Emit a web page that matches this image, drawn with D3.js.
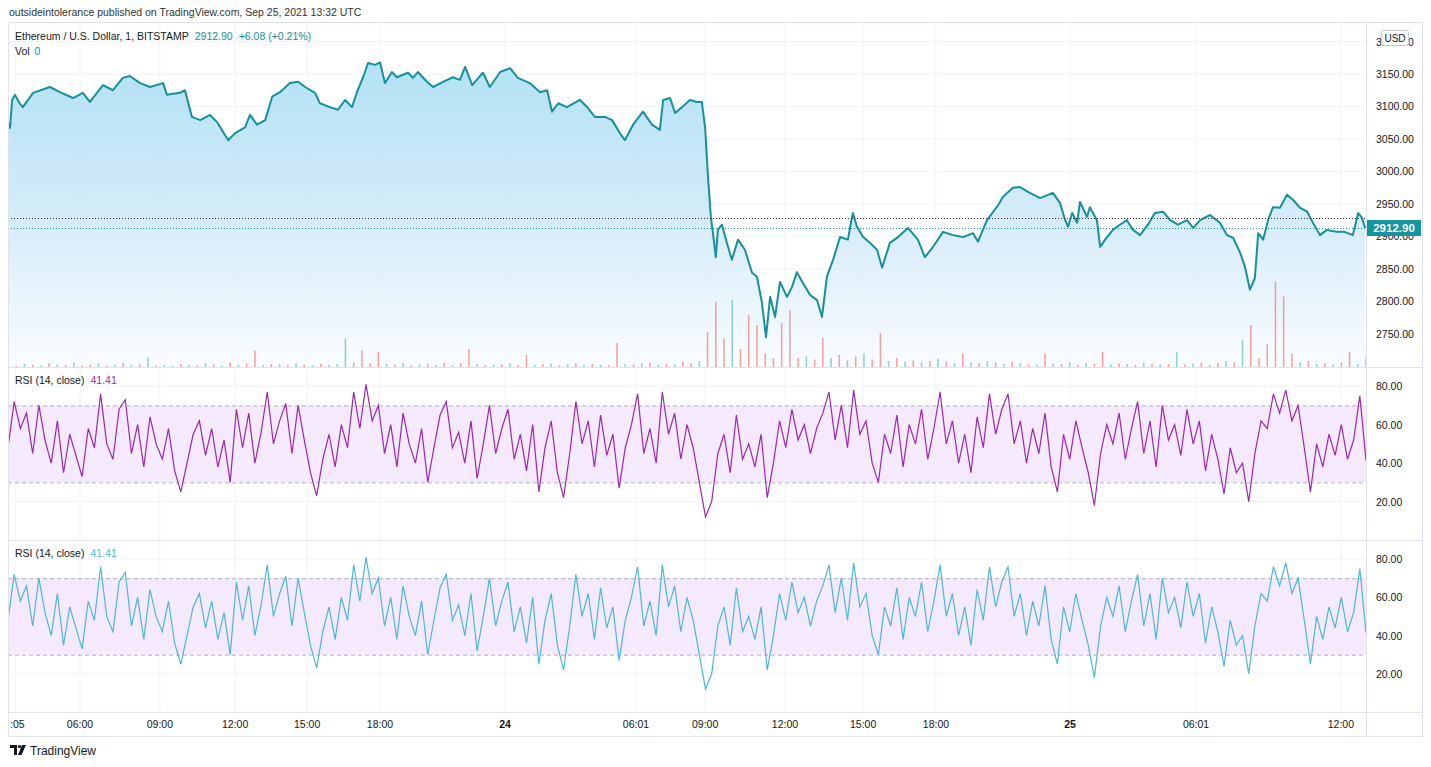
<!DOCTYPE html>
<html>
<head>
<meta charset="utf-8">
<title>ETHUSD 1m with RSI</title>
<script src="https://d3js.org/d3.v7.min.js"></script>
<style>
    body {
        margin: 0;
        background: #fff;
    }
    svg text {
        font-family: "Liberation Sans", Arial, sans-serif;
    }
    .lbl {
        font-size: 10.5px;
        fill: #131722;
    }
</style>
</head>
<body>
<svg id="chart" width="1431" height="767"></svg>
<script>
    // 1-minute bars, bar index from the left edge of the chart
    var priceSeries = [
        [0,3076],[5,3067],[10,3110],[17,3118],[29,3104],[36,3099],[61,3121],[102,3130],[126,3122],[158,3113],
        [182,3121],[199,3107],[231,3133],[255,3125],[279,3144],[296,3147],[321,3136],[345,3130],[377,3136],[386,3118],
        [418,3121],[430,3125],[447,3084],[467,3079],[491,3087],[508,3076],[535,3048],[552,3059],[576,3068],[588,3087],
        [605,3072],[625,3079],[642,3115],[661,3122],[685,3136],[705,3138],[722,3130],[746,3121],[758,3105],[782,3099],
        [802,3095],[819,3110],[836,3099],[848,3122],[863,3145],[875,3167],[892,3164],[904,3168],[916,3136],[933,3153],
        [945,3145],[972,3152],[984,3144],[996,3153],[1018,3138],[1033,3130],[1057,3138],[1081,3145],[1098,3141],[1111,3161],
        [1128,3133],[1154,3152],[1171,3130],[1196,3153],[1220,3159],[1239,3144],[1268,3136],[1293,3122],[1310,3125],[1322,3092],
        [1337,3105],[1358,3099],[1390,3110],[1409,3098],[1426,3084],[1451,3084],[1468,3079],[1487,3059],[1499,3048],[1519,3072],
        [1543,3092],[1565,3072],[1584,3064],[1592,3110],[1609,3113],[1621,3090],[1638,3099],[1657,3110],[1674,3107],[1686,3107],
        [1694,3068],[1701,2992],[1708,2930],[1713,2905],[1720,2868],[1725,2910],[1735,2918],[1747,2890],[1759,2864],[1774,2895],
        [1791,2879],[1808,2844],[1820,2838],[1832,2798],[1842,2745],[1852,2807],[1864,2776],[1876,2830],[1893,2807],[1905,2822],
        [1917,2845],[1932,2828],[1949,2810],[1966,2802],[1978,2776],[1990,2838],[2005,2864],[2022,2899],[2041,2895],[2053,2936],
        [2063,2915],[2078,2899],[2095,2890],[2112,2879],[2124,2852],[2143,2890],[2163,2899],[2187,2913],[2211,2895],[2228,2868],
        [2248,2884],[2272,2907],[2296,2902],[2321,2899],[2345,2905],[2357,2892],[2379,2925],[2406,2948],[2418,2961],[2442,2975],
        [2459,2976],[2483,2967],[2508,2959],[2539,2967],[2556,2952],[2569,2925],[2576,2915],[2586,2936],[2598,2921],[2605,2953],
        [2622,2930],[2629,2945],[2646,2925],[2654,2884],[2666,2895],[2685,2910],[2702,2918],[2719,2925],[2734,2910],[2751,2902],
        [2770,2918],[2787,2936],[2807,2938],[2824,2925],[2843,2918],[2865,2925],[2880,2913],[2897,2925],[2921,2933],[2945,2921],
        [2962,2902],[2977,2898],[2994,2875],[3006,2853],[3018,2818],[3030,2836],[3038,2905],[3050,2895],[3062,2925],[3074,2945],
        [3091,2944],[3108,2964],[3123,2956],[3140,2944],[3157,2938],[3171,2921],[3188,2902],[3205,2910],[3229,2907],[3248,2907],
        [3268,2902],[3281,2936],[3290,2929],[3298,2912.9]
    ];
    var lastPrice = 2912.90;
    var prevClose = 2928.6;

    // volume every 20 bars, positive = up bar, negative = down bar
    var volStep = 20;
    var volumes = [
        12,-8,20,-15,10,-25,18,-12,30,-10,
        -14,22,-9,16,-28,12,-18,60,-10,14,
        10,-20,15,-12,25,-18,9,-30,16,-22,
        -110,14,-20,18,-12,25,-16,10,-22,15,
        20,190,-30,-110,-25,-100,20,-15,28,-12,
        18,-22,15,-30,12,-25,-120,20,-14,16,
        -18,25,-12,-80,15,-20,22,-10,18,-26,
        14,-20,16,-12,-160,20,-18,25,-30,15,
        -22,18,-35,-25,40,-233,-433,-193,447,-120,
        -347,-280,-90,-60,-293,-380,-60,70,-50,-193,
        60,-80,45,-70,90,-50,-227,40,-60,35,
        -45,30,-40,55,-35,25,-90,30,-25,40,
        -30,20,-35,25,-18,15,-90,22,-20,30,
        -15,25,-20,-100,18,-25,20,-15,30,-22,
        16,-20,100,-18,22,-30,15,-25,40,-30,
        180,-280,-60,-150,-567,-470,-90,30,-40,20,
        -25,18,-30,-100,20,-60
    ];

    // RSI(14) sampled every 15 bars
    var rsiStep = 15;
    var rsiValues = [
        48,72,58,66,45,70,52,40,62,35,
        55,44,33,58,48,76,50,42,68,73,
        45,60,38,64,50,42,58,36,25,40,
        55,62,44,58,38,52,30,68,48,66,
        40,56,77,50,62,71,45,70,52,35,
        23,42,55,38,60,48,77,58,81,62,
        70,45,60,38,66,50,40,58,30,48,
        65,72,48,56,40,62,32,50,70,45,
        58,68,42,55,36,60,25,48,62,35,
        22,45,72,50,62,38,65,44,55,27,
        48,60,76,45,58,40,77,55,66,42,
        60,48,30,12,20,45,55,35,65,42,
        50,38,55,22,40,62,48,68,52,60,
        45,58,66,77,52,70,48,78,55,62,
        40,30,55,45,65,38,60,50,68,42,
        58,77,50,62,40,55,35,64,48,76,
        55,68,76,50,62,40,58,45,66,38,
        25,55,42,62,48,35,18,45,60,50,
        66,42,58,72,45,62,38,70,52,60,
        44,68,50,62,36,55,42,24,48,35,
        40,20,45,62,58,76,66,78,62,70,
        48,25,50,38,55,44,60,42,52,75,41.41
    ];

    var priceTicks = [2750, 2800, 2850, 2900, 2950, 3000, 3050, 3100, 3150, 3200];
    var rsiTicks = [20, 40, 60, 80];
    var rsiBand = [30, 70];
    var timeTickBars = [17, 175, 369, 552, 727, 904, 1208, 1526, 1694, 1888, 2078, 2255, 2581, 2887, 3239];
    var timeTickLabels = [":05", "06:00", "09:00", "12:00", "15:00", "18:00", "24", "06:01", "09:00", "12:00", "15:00", "18:00", "25", "06:01", "12:00"];

    var L = 8, R = 1366, AR = 1422;
    var priceTop = 23, priceBot = 367, rsi1Bot = 540, rsi2Bot = 712, axisBot = 736;

    var svg = d3.select("#chart");

    var x = d3.scaleLinear().domain([0, 3300]).range([L, R]);
    var yP = d3.scaleLinear().domain([2699, 3228.5]).range([priceBot, priceTop]);
    var yV = d3.scaleLinear().domain([0, 600]).range([priceBot, priceBot - 90]);
    var yR1 = d3.scaleLinear().domain([0, 90]).range([rsi1Bot, priceBot]);
    var yR2 = d3.scaleLinear().domain([0, 90]).range([rsi2Bot, rsi1Bot]);

    var defs = svg.append("defs");
    var grad = defs.append("linearGradient")
        .attr("id", "areaGrad")
        .attr("gradientUnits", "userSpaceOnUse")
        .attr("x1", 0).attr("x2", 0)
        .attr("y1", priceTop + 30).attr("y2", priceBot);
    grad.append("stop").attr("offset", "0%").attr("stop-color", "#a8def3");
    grad.append("stop").attr("offset", "55%").attr("stop-color", "#d3eaf9");
    grad.append("stop").attr("offset", "100%").attr("stop-color", "#f9fcff");

    function clip(id, y0, y1) {
        defs.append("clipPath").attr("id", id)
            .append("rect")
            .attr("x", L).attr("y", y0)
            .attr("width", R - L).attr("height", y1 - y0);
    }
    clip("clipPrice", priceTop, priceBot);
    clip("clipR1", priceBot, rsi1Bot);
    clip("clipR2", rsi1Bot, rsi2Bot);

    // title
    svg.append("text")
        .attr("x", 9).attr("y", 16)
        .attr("class", "lbl")
        .style("fill", "#333")
        .text("outsideintolerance published on TradingView.com, Sep 25, 2021 13:32 UTC");

    // grids
    var grid = svg.append("g");
    grid.selectAll("line.v")
        .data(timeTickBars)
        .join("line")
        .attr("x1", function (d) { return x(d); })
        .attr("x2", function (d) { return x(d); })
        .attr("y1", priceTop).attr("y2", rsi2Bot)
        .attr("stroke", "#f0f3fa");
    grid.selectAll("line.hp")
        .data(priceTicks)
        .join("line")
        .attr("x1", L).attr("x2", R)
        .attr("y1", function (d) { return yP(d); })
        .attr("y2", function (d) { return yP(d); })
        .attr("stroke", "#f0f3fa");

    function rsiPane(yR, clipId, color, values) {
        var g = svg.append("g");
        g.selectAll("line")
            .data(rsiTicks)
            .join("line")
            .attr("x1", L).attr("x2", R)
            .attr("y1", function (d) { return yR(d); })
            .attr("y2", function (d) { return yR(d); })
            .attr("stroke", "#f0f3fa");
        g.append("rect")
            .attr("x", L).attr("width", R - L)
            .attr("y", yR(rsiBand[1]))
            .attr("height", yR(rsiBand[0]) - yR(rsiBand[1]))
            .attr("fill", "#f4e9fd");
        g.selectAll("line.band")
            .data(rsiBand)
            .join("line")
            .attr("class", "band")
            .attr("x1", L).attr("x2", R)
            .attr("y1", function (d) { return yR(d) + 0.5; })
            .attr("y2", function (d) { return yR(d) + 0.5; })
            .attr("stroke", "#b0b2ba")
            .attr("stroke-dasharray", "4,3");
        var line = d3.line()
            .x(function (d, i) { return x(i * rsiStep); })
            .y(function (d) { return yR(d); });
        g.append("path")
            .datum(values)
            .attr("clip-path", "url(#" + clipId + ")")
            .attr("d", line)
            .attr("fill", "none")
            .attr("stroke", color)
            .attr("stroke-width", 1.2);
    }
    rsiPane(yR1, "clipR1", "#9c27b0", rsiValues);
    rsiPane(yR2, "clipR2", "#4db6da", rsiValues);

    // price area, then volume on top of it, then the line
    var area = d3.area()
        .x(function (d) { return x(d[0]); })
        .y0(priceBot)
        .y1(function (d) { return yP(d[1]); });
    var line = d3.line()
        .x(function (d) { return x(d[0]); })
        .y(function (d) { return yP(d[1]); });
    var pg = svg.append("g").attr("clip-path", "url(#clipPrice)");
    pg.append("path")
        .datum(priceSeries)
        .attr("d", area)
        .attr("fill", "url(#areaGrad)")
        .attr("fill-opacity", 0.9);

    pg.append("g")
        .selectAll("rect")
        .data(volumes)
        .join("rect")
        .attr("x", function (d, i) { return x(i * volStep) - 0.75; })
        .attr("width", 1.5)
        .attr("y", function (d) { return yV(Math.abs(d)); })
        .attr("height", function (d) { return priceBot - yV(Math.abs(d)); })
        .attr("fill", function (d) { return d >= 0 ? "rgba(38,166,154,0.5)" : "rgba(239,83,80,0.55)"; });

    pg.append("path")
        .datum(priceSeries)
        .attr("d", line)
        .attr("fill", "none")
        .attr("stroke", "#15909c")
        .attr("stroke-width", 2)
        .attr("stroke-linejoin", "round");

    pg.append("line")
        .attr("x1", L).attr("x2", R)
        .attr("y1", Math.round(yP(prevClose)) + 0.5)
        .attr("y2", Math.round(yP(prevClose)) + 0.5)
        .attr("stroke", "#333")
        .attr("stroke-dasharray", "1,2");
    pg.append("line")
        .attr("x1", L).attr("x2", R)
        .attr("y1", Math.round(yP(lastPrice)) + 0.5)
        .attr("y2", Math.round(yP(lastPrice)) + 0.5)
        .attr("stroke", "#15909c")
        .attr("stroke-dasharray", "1,2");

    // frame and separators
    var frame = svg.append("g").attr("stroke", "#e0e3eb").attr("fill", "none");
    frame.append("rect")
        .attr("x", L + 0.5).attr("y", priceTop - 0.5)
        .attr("width", AR - L).attr("height", axisBot - priceTop + 1);
    [priceBot, rsi1Bot, rsi2Bot].forEach(function (yy) {
        frame.append("line")
            .attr("x1", L).attr("x2", AR)
            .attr("y1", yy + 0.5).attr("y2", yy + 0.5);
    });
    frame.append("line")
        .attr("x1", R + 0.5).attr("x2", R + 0.5)
        .attr("y1", priceTop).attr("y2", axisBot);

    // right axis labels (3200 sits under the USD badge, 2900 under the price badge)
    svg.append("g").selectAll("text")
        .data(priceTicks)
        .join("text")
        .attr("class", "lbl")
        .attr("x", 1376)
        .attr("y", function (d) { return yP(d) + 4; })
        .text(function (d) { return d3.format(".2f")(d); });
    [yR1, yR2].forEach(function (yR) {
        svg.append("g").selectAll("text")
            .data(rsiTicks)
            .join("text")
            .attr("class", "lbl")
            .attr("x", 1376)
            .attr("y", function (d) { return yR(d) + 4; })
            .text(function (d) { return d3.format(".2f")(d); });
    });

    // USD badge
    svg.append("rect")
        .attr("x", 1381.5).attr("y", 30.5)
        .attr("width", 27).attr("height", 15)
        .attr("rx", 2)
        .attr("fill", "#fff")
        .attr("stroke", "#c8cad0");
    svg.append("text")
        .attr("x", 1395).attr("y", 42)
        .attr("text-anchor", "middle")
        .style("font-size", "10px")
        .style("fill", "#131722")
        .text("USD");

    // last price badge
    svg.append("rect")
        .attr("x", R + 1).attr("y", yP(lastPrice) - 8)
        .attr("width", 54).attr("height", 16)
        .attr("fill", "#1595a0");
    svg.append("text")
        .attr("x", R + 28).attr("y", yP(lastPrice) + 4)
        .attr("text-anchor", "middle")
        .style("font-size", "11.5px")
        .style("font-weight", "bold")
        .style("fill", "#fff")
        .text(d3.format(".2f")(lastPrice));

    // time axis
    svg.append("g").selectAll("text")
        .data(timeTickBars)
        .join("text")
        .attr("class", "lbl")
        .attr("x", function (d) { return x(d); })
        .attr("y", 728)
        .attr("text-anchor", function (d, i) { return i === 0 ? "start" : "middle"; })
        .attr("dx", function (d, i) { return i === 0 ? -5 : 0; })
        .style("font-weight", function (d, i) { return timeTickLabels[i].length === 2 ? "bold" : "normal"; })
        .text(function (d, i) { return timeTickLabels[i]; });

    // legends
    var lg = svg.append("text").attr("class", "lbl").attr("x", 15).attr("y", 40);
    lg.append("tspan").text("Ethereum / U.S. Dollar, 1, BITSTAMP");
    lg.append("tspan").attr("dx", 6).style("fill", "#15909c").text(d3.format(".2f")(lastPrice));
    lg.append("tspan").attr("dx", 6).style("fill", "#15909c").text("+6.08 (+0.21%)");

    var vl = svg.append("text").attr("class", "lbl").attr("x", 15).attr("y", 55);
    vl.append("tspan").text("Vol");
    vl.append("tspan").attr("dx", 5).style("fill", "#15909c").text("0");

    function rsiLegend(y, color) {
        var t = svg.append("text").attr("class", "lbl").attr("x", 15).attr("y", y);
        t.append("tspan").text("RSI (14, close)");
        t.append("tspan").attr("dx", 6).style("fill", color).text(d3.format(".2f")(rsiValues[rsiValues.length - 1]));
    }
    rsiLegend(384, "#9c27b0");
    rsiLegend(557, "#4db6da");

    // TradingView footer
    var logo = svg.append("g").attr("transform", "translate(10,745)").attr("fill", "#131722");
    logo.append("path").attr("d", "M0,0 H7 V10 H4 V3 H0 Z");
    logo.append("circle").attr("cx", 9.5).attr("cy", 1.5).attr("r", 1.6);
    logo.append("path").attr("d", "M12,0 H16 L11.5,10 H8 Z");
    svg.append("text")
        .attr("x", 30).attr("y", 755)
        .style("font-size", "12px")
        .style("fill", "#131722")
        .text("TradingView");
</script>
</body>
</html>
